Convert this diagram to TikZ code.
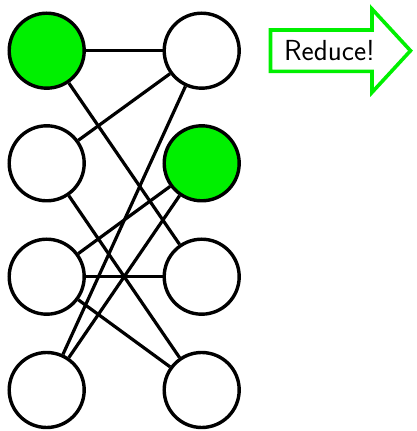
\documentclass[tikz,border=0pt]{standalone}
\definecolor{brightgreen}{RGB}{0,240,0}
\begin{document}
\begin{tikzpicture}[x=1pt,y=1pt,
  vert/.style={circle,draw=black,line width=3.4pt,minimum size=75pt,inner sep=0pt,fill=white},
  marked/.style={vert,fill=brightgreen},
  edge/.style={draw=black,line width=3.2pt},
  arrowshape/.style={draw=brightgreen,line width=3.6pt,fill=white,line join=miter}]
\useasboundingbox (0,0) rectangle (416,431);
\node[marked] (L1) at (46.7,380.3) {};
\node[vert] (L2) at (46.7,267.7) {};
\node[vert] (L3) at (46.7,154.3) {};
\node[vert] (L4) at (46.7,41) {};
\node[vert] (R1) at (201.7,380.3) {};
\node[marked] (R2) at (201.7,267.7) {};
\node[vert] (R3) at (201.7,154.3) {};
\node[vert] (R4) at (201.7,41) {};
\draw[edge] (L1) -- (R1);
\draw[edge] (L1) -- (R3);
\draw[edge] (L2) -- (R1);
\draw[edge] (L2) -- (R4);
\draw[edge] (L3) -- (R2);
\draw[edge] (L3) -- (R3);
\draw[edge] (L3) -- (R4);
\draw[edge] (L4) -- (R1);
\draw[edge] (L4) -- (R2);
\draw[arrowshape] (270.5,401) -- (372,401) -- (372,422) -- (410.5,380.3) -- (372,338.6) -- (372,359.6) -- (270.5,359.6) -- cycle;
\node[font=\sffamily\fontsize{29}{31}\selectfont,inner sep=0pt] (lbl) at (329.5,380.3) {Reduce!};
\end{tikzpicture}
\end{document}
